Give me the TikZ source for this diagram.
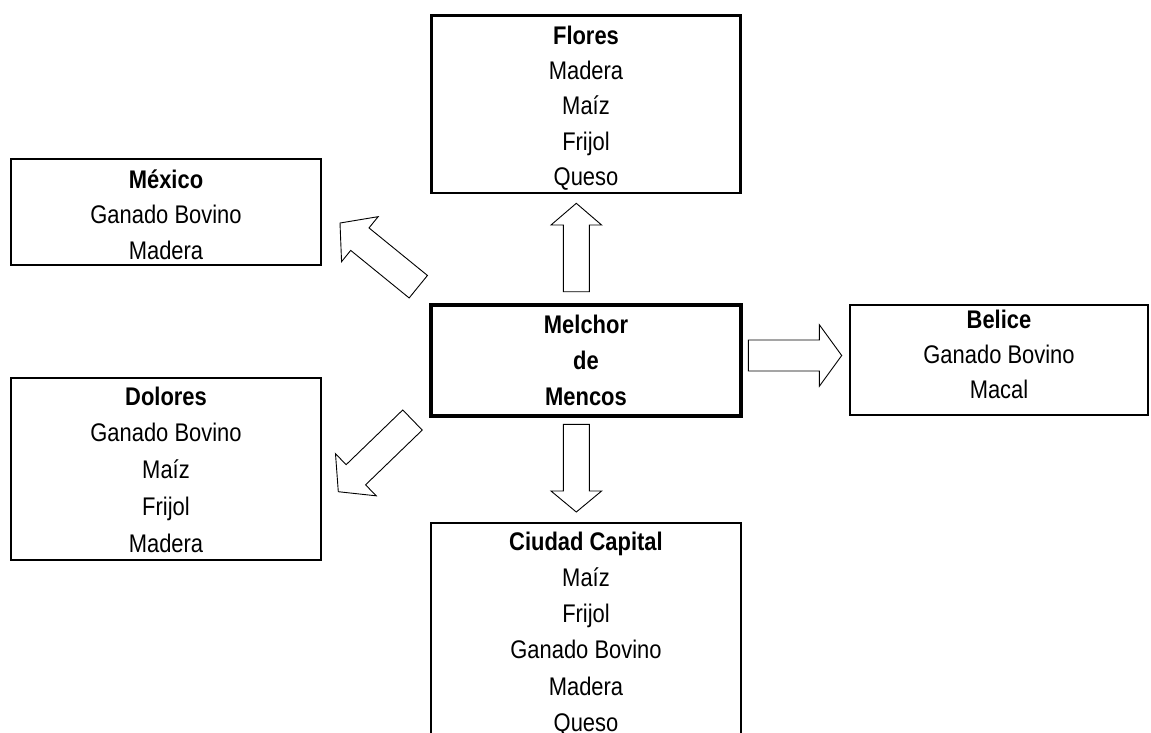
\documentclass[tikz,border=0pt]{standalone}
\usepackage{fontspec}
\setmainfont{Liberation Sans}[FakeStretch=0.86]
\usetikzlibrary{calc}
\newcommand{\cellines}[1]{\begin{tabular}[t]{@{}c@{}}#1\end{tabular}}
\newcommand{\blockarr}[6]{%
  \coordinate (#1H) at ($(#3)!#6!(#2)$);
  \draw[blockarrow] ($(#2)!#4!90:(#3)$) -- ($(#1H)!#4!90:(#3)$) -- ($(#1H)!#5!90:(#3)$) -- (#3)
    -- ($(#1H)!#5!-90:(#3)$) -- ($(#1H)!#4!-90:(#3)$) -- ($(#2)!#4!-90:(#3)$) -- cycle;
}
\begin{document}
\begin{tikzpicture}[x=1pt,y=-1pt,
  box/.style={draw=black, line width=2.3pt, inner sep=0pt, fill=white},
  mainbox/.style={box, line width=3.8pt},
  txt/.style={inner sep=0pt, anchor=base, font=\fontsize{25.5}{#1}\selectfont},
  blockarrow/.style={draw=black, line width=0.9pt, fill=white, line join=miter}]
\useasboundingbox[fill=white] (0,0) rectangle (1151,732);

% boxes
\node[box, minimum width=309pt, minimum height=177.5pt] (flores) at (586,104.25) {};
\node[box, minimum width=310pt, minimum height=106pt] (mexico) at (166,212) {};
\node[box, minimum width=310pt, minimum height=182pt] (dolores) at (166,469) {};
\node[mainbox, minimum width=310pt, minimum height=111pt] (melchor) at (586,360.5) {};
\node[box, minimum width=298pt, minimum height=110pt] (belice) at (999,360) {};
\node[box, minimum width=310pt, minimum height=277pt] (ciudad) at (586,661.5) {};

% texts
\node[txt=35.3pt] (floresT) at (586,44.3) {\cellines{\textbf{Flores}\\Madera\\Maíz\\Frijol\\Queso}};
\node[txt=35.5pt] (mexicoT) at (166,188) {\cellines{\textbf{México}\\Ganado Bovino\\Madera}};
\node[txt=36pt] (melchorT) at (586,333) {\cellines{\textbf{Melchor}\\\textbf{de}\\\textbf{Mencos}}};
\node[txt=35.3pt] (beliceT) at (999,328) {\cellines{\textbf{Belice}\\Ganado Bovino\\Macal}};
\node[txt=36.8pt] (doloresT) at (166,405) {\cellines{\textbf{Dolores}\\Ganado Bovino\\Maíz\\Frijol\\Madera}};
\node[txt=36.3pt] (ciudadT) at (586,550) {\cellines{\textbf{Ciudad Capital}\\Maíz\\Frijol\\Ganado Bovino\\Madera\\Queso}};

% block arrows
\coordinate (upS) at (576.3,291.7);
\coordinate (upT) at (576.3,203.3);
\coordinate (dnS) at (576.3,424.3);
\coordinate (dnT) at (576.3,512);
\coordinate (rtS) at (748.3,355.5);
\coordinate (rtT) at (841.7,355.5);
\coordinate (nwS) at (418.3,286.7);
\coordinate (nwT) at (340,223);
\coordinate (swS) at (412.5,420);
\coordinate (swT) at (338.3,491.7);

\blockarr{up}{upS}{upT}{13pt}{25.3pt}{21.7pt}
\blockarr{dn}{dnS}{dnT}{13pt}{25.3pt}{21pt}
\blockarr{rt}{rtS}{rtT}{15.5pt}{30.8pt}{22.4pt}
\blockarr{nw}{nwS}{nwT}{14.5pt}{29pt}{25.6pt}
\blockarr{sw}{swS}{swT}{14pt}{29.3pt}{24.4pt}
\end{tikzpicture}
\end{document}
